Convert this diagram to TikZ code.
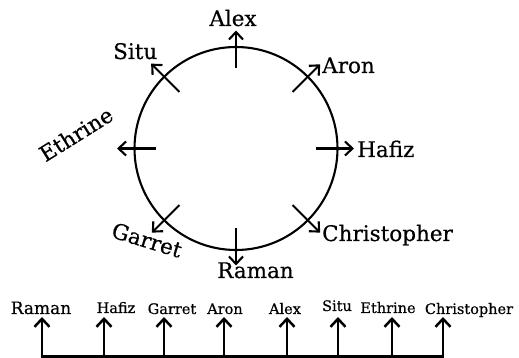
\documentclass[tikz,border=0pt]{standalone}
\usepackage{fontspec}
\setmainfont[FakeBold=0.5]{DejaVu Serif}
\usetikzlibrary{arrows.meta,calc}

\begin{document}
\begin{tikzpicture}[x=1pt,y=1pt,
  ring/.style={draw=black,line width=2.1pt},
  ray/.style={-{Straight Barb[length=7.5pt,width=14pt]},line width=2.1pt},
  guest/.style={font=\fontsize{21.5}{21.5}\selectfont,inner sep=0pt},
  seat/.style={font=\fontsize{14.5}{14.5}\selectfont,inner sep=0pt},
  rail/.style={line width=2.5pt,line cap=rect},
  post/.style={-{Straight Barb[length=8pt,width=15pt]},line width=2.5pt}]
\useasboundingbox (0,0) rectangle (519,358);
\coordinate (c) at (236,209.5);
\draw[ring] (c) circle (101.5);
\coordinate (sAlex) at ($(c)+(90:80)$);
\coordinate (tAlex) at ($(c)+(90:118)$);
\coordinate (sAron) at ($(c)+(45:80)$);
\coordinate (tAron) at ($(c)+(45:119)$);
\coordinate (sHafiz) at ($(c)+(0:80)$);
\coordinate (tHafiz) at ($(c)+(0:118)$);
\coordinate (sChris) at ($(c)+(-45:80)$);
\coordinate (tChris) at ($(c)+(-45:119)$);
\coordinate (sRaman) at ($(c)+(-90:80)$);
\coordinate (tRaman) at ($(c)+(-90:117)$);
\coordinate (sGarret) at ($(c)+(-135:80)$);
\coordinate (tGarret) at ($(c)+(-135:119)$);
\coordinate (sEthrine) at ($(c)+(180:80)$);
\coordinate (tEthrine) at ($(c)+(180:119)$);
\coordinate (sSitu) at ($(c)+(135:80)$);
\coordinate (tSitu) at ($(c)+(135:120)$);
\draw[ray] (sAlex) -- (tAlex);
\draw[ray] (sAron) -- (tAron);
\draw[ray] (sHafiz) -- (tHafiz);
\draw[ray] (sChris) -- (tChris);
\draw[ray] (sRaman) -- (tRaman);
\draw[ray] (sGarret) -- (tGarret);
\draw[ray] (sEthrine) -- (tEthrine);
\draw[ray] (sSitu) -- (tSitu);
\node[guest,anchor=base] (Alex) at (233,332) {Alex};
\node[guest,anchor=base west] (Aron) at (322,285) {Aron};
\node[guest,anchor=base west] (Hafiz) at (357,201) {Hafiz};
\node[guest,anchor=base west] (Chris) at (322,117) {Christopher};
\node[guest,anchor=base west] (Raman) at (217,80) {Raman};
\node[guest,anchor=base west] (Situ) at (113,299) {Situ};
\node[guest,rotate=-17] (Garret) at (147,118) {Garret};
\node[guest,rotate=32] (Ethrine) at (76,224) {Ethrine};
\coordinate (top) at (0,41);
\coordinate (fRaman) at (42,1.5);
\coordinate (fHafiz) at (104,1.5);
\coordinate (fGarret) at (164,1.5);
\coordinate (fAron) at (224,1.5);
\coordinate (fAlex) at (287,1.5);
\coordinate (fSitu) at (338,1.5);
\coordinate (fEthrine) at (392,1.5);
\coordinate (fChris) at (443,1.5);
\draw[rail] (fRaman) -- (fChris);
\draw[post] (fRaman) -- (fRaman |- top);
\draw[post] (fHafiz) -- (fHafiz |- top);
\draw[post] (fGarret) -- (fGarret |- top);
\draw[post] (fAron) -- (fAron |- top);
\draw[post] (fAlex) -- (fAlex |- top);
\draw[post] (fSitu) -- (fSitu |- top);
\draw[post] (fEthrine) -- (fEthrine |- top);
\draw[post] (fChris) -- (fChris |- top);
\node[seat,anchor=base,font=\fontsize{17}{17}\selectfont] (bRaman) at (41,44) {Raman};
\node[seat,anchor=base] (bHafiz) at (116,45) {Hafiz};
\node[seat,anchor=base] (bGarret) at (172,44) {Garret};
\node[seat,anchor=base] (bAron) at (225,44) {Aron};
\node[seat,anchor=base] (bAlex) at (285,44) {Alex};
\node[seat,anchor=base] (bSitu) at (337,47) {Situ};
\node[seat,anchor=base] (bEthrine) at (388,45) {Ethrine};
\node[seat,anchor=base] (bChris) at (469,44) {Christopher};
\end{tikzpicture}
\end{document}
